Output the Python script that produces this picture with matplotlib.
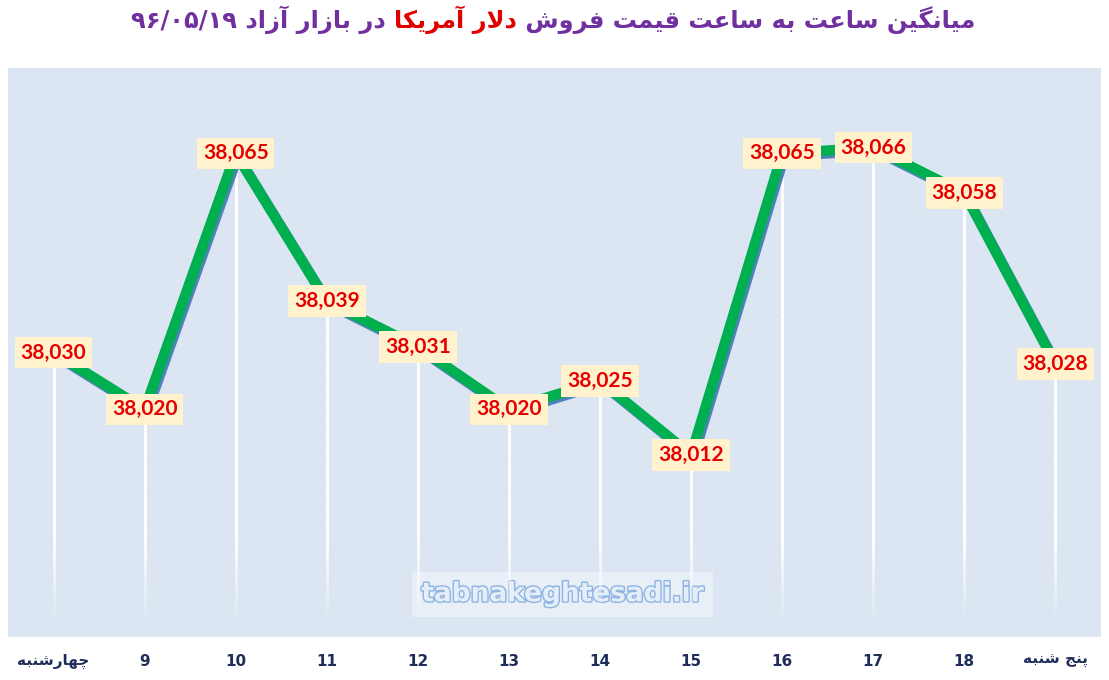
import matplotlib
matplotlib.use("Agg")
import matplotlib.pyplot as plt
import matplotlib.patheffects as pe
from matplotlib.collections import LineCollection
import numpy as np

# ---------------- data ----------------
hours = ["چهارشنبه", "9", "10", "11", "12", "13", "14", "15", "16", "17", "18", "پنج شنبه"]
prices = [38030, 38020, 38065, 38039, 38031, 38020, 38025, 38012, 38065, 38066, 38058, 38028]
title_part1 = "میانگین ساعت به ساعت قیمت فروش "
title_part2 = "دلار آمریکا"
title_part3 = " در بازار آزاد ۹۶/۰۵/۱۹"
watermark = "tabnakeghtesadi.ir"

# ---------------- minimal Persian shaping ----------------
# forms: isolated, final, initial, medial (None -> right-joining only)
FORMS = {
    'ا': (0xFE8D, 0xFE8E, None, None),
    'آ': (0xFE81, 0xFE82, None, None),
    'ب': (0xFE8F, 0xFE90, 0xFE91, 0xFE92),
    'پ': (0xFB56, 0xFB57, 0xFB58, 0xFB59),
    'ت': (0xFE95, 0xFE96, 0xFE97, 0xFE98),
    'ج': (0xFE9D, 0xFE9E, 0xFE9F, 0xFEA0),
    'چ': (0xFB7A, 0xFB7B, 0xFB7C, 0xFB7D),
    'د': (0xFEA9, 0xFEAA, None, None),
    'ر': (0xFEAD, 0xFEAE, None, None),
    'ز': (0xFEAF, 0xFEB0, None, None),
    'س': (0xFEB1, 0xFEB2, 0xFEB3, 0xFEB4),
    'ش': (0xFEB5, 0xFEB6, 0xFEB7, 0xFEB8),
    'ع': (0xFEC9, 0xFECA, 0xFECB, 0xFECC),
    'ف': (0xFED1, 0xFED2, 0xFED3, 0xFED4),
    'ق': (0xFED5, 0xFED6, 0xFED7, 0xFED8),
    'ک': (0xFB8E, 0xFB8F, 0xFB90, 0xFB91),
    'گ': (0xFB92, 0xFB93, 0xFB94, 0xFB95),
    'ل': (0xFEDD, 0xFEDE, 0xFEDF, 0xFEE0),
    'م': (0xFEE1, 0xFEE2, 0xFEE3, 0xFEE4),
    'ن': (0xFEE5, 0xFEE6, 0xFEE7, 0xFEE8),
    'ه': (0xFEE9, 0xFEEA, 0xFEEB, 0xFEEC),
    'و': (0xFEED, 0xFEEE, None, None),
    'ی': (0xFBFC, 0xFBFD, 0xFBFE, 0xFBFF),
    'لا': (0xFEFB, 0xFEFC, None, None),
    'لآ': (0xFEF5, 0xFEF6, None, None),
}


def dual(c):
    return c in FORMS and FORMS[c][2] is not None


def shape_word(word):
    if not any(c in FORMS for c in word):
        return word  # numbers / latin stay LTR
    units = []
    i = 0
    while i < len(word):
        if word[i] == 'ل' and i + 1 < len(word) and word[i + 1] in 'اآ':
            units.append(word[i:i + 2])
            i += 2
        else:
            units.append(word[i])
            i += 1
    out = []
    for k, u in enumerate(units):
        if u not in FORMS:
            out.append(u)
            continue
        prev_join = k > 0 and dual(units[k - 1])
        next_join = dual(u) and k + 1 < len(units) and units[k + 1] in FORMS
        iso, fin, ini, med = FORMS[u]
        if prev_join and next_join:
            code = med
        elif prev_join:
            code = fin
        elif next_join:
            code = ini
        else:
            code = iso
        out.append(chr(code))
    return "".join(out[::-1])


def rtl(text):
    words = text.split(" ")
    return " ".join(shape_word(w) for w in words[::-1])


# ---------------- figure ----------------
W, H = 1109, 680
fig = plt.figure(figsize=(W / 100, H / 100), dpi=100)
fig.patch.set_facecolor("white")
ax = fig.add_axes([8 / W, (H - 637) / H, (1101 - 8) / W, (637 - 68) / H])
ax.set_facecolor("#dce6f2")
for s in ax.spines.values():
    s.set_visible(False)
ax.set_xticks([])
ax.set_yticks([])
ax.set_xlim(-0.5, len(prices) - 0.5)
ax.set_ylim(37980, 38080)

x = np.arange(len(prices))

# drop lines with fade toward bottom
for xi, yi in zip(x, prices):
    ys = np.linspace(yi, 37983, 60)
    segs = [[(xi, ys[j]), (xi, ys[j + 1])] for j in range(len(ys) - 1)]
    mids = (ys[:-1] + ys[1:]) / 2
    alphas = np.clip((mids - 37983) / 14.0, 0, 1)
    cols = [(1, 1, 1, a) for a in alphas]
    ax.add_collection(LineCollection(segs, colors=cols, linewidths=2.2, zorder=2))

# watermark
ax.text(0.5075, 0.075, watermark, transform=ax.transAxes, ha="center", va="center",
        fontsize=19, fontweight="bold", family="DejaVu Sans", color="#e4edf8", zorder=1.5,
        bbox=dict(boxstyle="square,pad=0.35", fc="white", ec="none", alpha=0.4),
        path_effects=[pe.withStroke(linewidth=2.0, foreground="#8db4e2")])

# line with blue shadow
ax.plot(x, prices, color="#00b050", lw=7.5, solid_capstyle="butt", solid_joinstyle="miter", zorder=3,
        path_effects=[pe.SimpleLineShadow(offset=(1.5, -2.0), shadow_color="#4f81bd", alpha=1.0),
                      pe.Normal()])

# data labels
for xi, yi in zip(x, prices):
    ax.text(xi, yi, f"{yi:,}", ha="center", va="center", color="#e60000", fontsize=15,
            fontweight="bold", family="Lato", zorder=5,
            bbox=dict(boxstyle="square,pad=0.28", fc="#fff2cc", ec="none"))

# x labels
for xi, lab in zip(x, hours):
    ax.text(xi, -(661 - 637) / (637 - 68), rtl(lab), transform=ax.get_xaxis_transform(),
            ha="center", va="center", fontsize=11, fontweight="bold", family="DejaVu Sans",
            color="#1f2d5a")

# title in three coloured pieces (visual order: part3, part2, part1 left to right)
fig.canvas.draw()
renderer = fig.canvas.get_renderer()
pieces = [(rtl(title_part3.strip()) + " ", "#7030a0"),
          (rtl(title_part2), "#e00000"),
          (" " + rtl(title_part1.strip()), "#7030a0")]
tobjs = []
for txt, col in pieces:
    t = fig.text(0, 1 - 20 / H, txt, ha="left", va="center", fontsize=17.4, fontweight="bold",
                 family="DejaVu Sans", color=col)
    tobjs.append(t)
widths = [t.get_window_extent(renderer).width for t in tobjs]
total = sum(widths)
cur = (553 - total / 2)
for t, w in zip(tobjs, widths):
    t.set_x(cur / W)
    cur += w

fig.savefig("out.png", dpi=100)
